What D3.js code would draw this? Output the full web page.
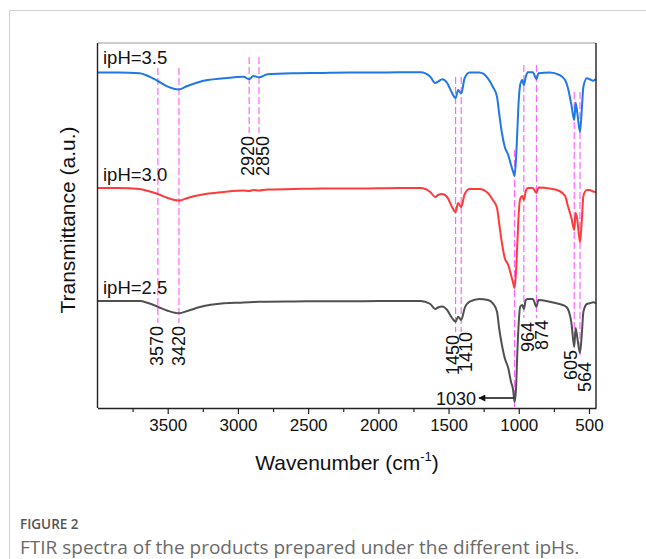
<!DOCTYPE html>
<html>
<head>
<meta charset="utf-8">
<script src="https://cdn.jsdelivr.net/npm/d3@7"></script>
<style>
body { margin: 0; background: #fff; }
svg text { font-family: "Liberation Sans", Arial, sans-serif; }
svg text.caption { font-family: "Open Sans", sans-serif; }
</style>
</head>
<body>
<div id="chart"></div>
<script>
// spectra, transmittance in arbitrary units (curves already offset)
const wavenumbers = [4000, 3850, 3700, 3640, 3570, 3500, 3420, 3360, 3270, 3100, 2960, 2920, 2890, 2850, 2790,
  2600, 2400, 2200, 2000, 1850, 1700, 1630, 1595, 1575, 1545, 1510, 1475, 1450, 1432, 1410, 1385, 1350, 1280,
  1220, 1185, 1155, 1140, 1120, 1100, 1075, 1055, 1040, 1030, 1020, 1010, 1000, 990, 975, 964, 950, 935, 900,
  874, 860, 780, 710, 670, 650, 625, 605, 595, 585, 564, 550, 540, 515, 495, 470, 450];
const ipH35 = [335.5, 335.5, 334.7, 332, 327, 321.3, 318.5, 322, 326.3, 329.7, 331.3, 328.7, 332, 330.7, 333.7,
  334.7, 335, 335.4, 335.5, 335.7, 335.7, 331.3, 325, 326.3, 328.7, 325, 315, 310, 318, 314.5, 330, 335.5, 335.4,
  329.7, 321.3, 311.3, 295, 275, 261.3, 253, 243, 236, 232, 248, 278, 308, 323, 328, 323, 331.3, 335.7, 335.7,
  329, 334.7, 335.4, 333, 328, 320, 303, 288, 305, 297, 276, 301, 321, 329.7, 328.7, 327.3, 329];
const ipH30 = [220, 220, 219, 217, 214, 210, 207.5, 210, 213, 216, 217.5, 217, 218, 217.5, 218.5,
  219, 219.5, 219.5, 219.7, 220, 220, 216, 211, 213, 214, 211, 201, 196, 205, 201, 214, 219, 219,
  215, 208, 200, 185, 165, 150, 143, 133, 125, 120, 135, 165, 195, 209, 212, 208, 217, 220, 220,
  215, 220.5, 219.5, 217, 212, 202, 190, 178, 195, 190, 166, 190, 212, 218, 218, 216.5, 216];
const ipH25 = [107, 107, 107, 105, 101.3, 97.3, 94.7, 97, 101, 104.7, 105.5, 105.8, 106, 106.2, 106.3,
  106.6, 106.7, 106.7, 107, 107, 107, 104, 99, 100.5, 101.5, 98, 90, 86.3, 91.3, 88, 100, 106.3, 109,
  108, 104.7, 96.3, 80, 63, 50, 40, 26, 18, 6, 18, 56, 86, 101.3, 103, 99, 108, 109, 109,
  101.3, 108, 106.3, 104, 102, 99, 85, 61, 80, 72, 55, 76, 96, 104, 104.7, 105.7, 105];
const seriesNames = ["ipH=3.5", "ipH=3.0", "ipH=2.5"];
const seriesLabelLevel = [344, 227, 114];

// marked bands: dashed line from top to bottom (a.u.), rotated label starting at labelTop
const peakWavenumbers = [3570, 3420, 2920, 2850, 1450, 1410, 1030, 964, 874, 605, 564];
const peakLineTop = [340, 340, 351, 351, 331, 331, 258, 343, 343, 316, 316];
const peakLineBottom = [85, 85, 275, 275, 76, 76, 1, 90, 90, 61, 53];
const peakLabelTop = [82, 82, 272, 272, 73, 76, null, 86, 88, 58, 46];
const peakLabelShift = [-1, 0, -2, 4, -3, 4, 0, 4, 5, -4, 5];

const majorTicks = [3500, 3000, 2500, 2000, 1500, 1000, 500];
const minorTicks = [3750, 3250, 2750, 2250, 1750, 1250, 750];

const width = 646, height = 559;
const plot = { left: 97.5, right: 596, top: 43, bottom: 408 };
const colors = ["#1f78e6", "#ff3a3a", "#505050"];

const svg = d3.select("#chart").append("svg")
  .attr("width", width)
  .attr("height", height);

// card borders
svg.append("line").attr("x1", 9.5).attr("x2", width).attr("y1", 10.5).attr("y2", 10.5)
  .attr("stroke", "#d0d0d0");
svg.append("line").attr("x1", 9.5).attr("x2", 9.5).attr("y1", 10.5).attr("y2", height)
  .attr("stroke", "#d0d0d0");

const x = d3.scaleLinear().domain([4000, 450]).range([plot.left, plot.right]);
const y = d3.scaleLinear().domain([0, 365]).range([plot.bottom, plot.top]);

// dashed marker lines
const peaks = peakWavenumbers.map((w, i) => ({
  w: w, top: peakLineTop[i], bottom: peakLineBottom[i], label: peakLabelTop[i], dx: peakLabelShift[i]
}));
svg.append("g").selectAll("line").data(peaks).enter().append("line")
  .attr("x1", d => x(d.w)).attr("x2", d => x(d.w))
  .attr("y1", d => y(d.top)).attr("y2", d => y(d.bottom))
  .attr("stroke", "#ff66ff")
  .attr("stroke-width", 1.2)
  .attr("stroke-dasharray", "7,3");

// spectra
const line = d3.line()
  .x(d => x(d[0]))
  .y(d => y(d[1]))
  .curve(d3.curveMonotoneX);
[ipH35, ipH30, ipH25].forEach((vals, i) => {
  svg.append("path")
    .datum(wavenumbers.map((w, j) => [w, vals[j]]))
    .attr("fill", "none")
    .attr("stroke", colors[i])
    .attr("stroke-width", 2)
    .attr("stroke-linejoin", "round")
    .attr("d", line);
  svg.append("text")
    .attr("x", 103)
    .attr("y", y(seriesLabelLevel[i]))
    .attr("font-size", 18.5)
    .attr("fill", "#111")
    .text(seriesNames[i]);
});

// rotated peak labels
svg.append("g").selectAll("text").data(peaks.filter(d => d.label !== null)).enter().append("text")
  .attr("transform", d => `translate(${x(d.w) + d.dx},${y(d.label)}) rotate(-90)`)
  .attr("dy", "0.36em")
  .attr("text-anchor", "end")
  .attr("font-size", 18)
  .attr("fill", "#111")
  .text(d => d.w);

// 1030 arrow
const arrowY = 398;
svg.append("defs").append("marker")
  .attr("id", "head")
  .attr("viewBox", "0 0 10 10")
  .attr("refX", 9).attr("refY", 5)
  .attr("markerWidth", 12).attr("markerHeight", 7)
  .attr("markerUnits", "userSpaceOnUse")
  .attr("orient", "auto")
  .append("path").attr("d", "M0,0 L10,5 L0,10 Z").attr("fill", "#111");
svg.append("line")
  .attr("x1", x(1030) - 1).attr("x2", 479)
  .attr("y1", arrowY).attr("y2", arrowY)
  .attr("stroke", "#111").attr("stroke-width", 1.3)
  .attr("marker-end", "url(#head)");
svg.append("text")
  .attr("x", 476).attr("y", arrowY + 6.5)
  .attr("text-anchor", "end")
  .attr("font-size", 18)
  .attr("fill", "#111")
  .text("1030");

// frame
svg.append("line").attr("x1", plot.left).attr("x2", plot.right).attr("y1", plot.top).attr("y2", plot.top)
  .attr("stroke", "#9a9a9a").attr("stroke-width", 1);
svg.append("line").attr("x1", plot.left).attr("x2", plot.left).attr("y1", plot.top).attr("y2", plot.bottom)
  .attr("stroke", "#222").attr("stroke-width", 1.4);
svg.append("line").attr("x1", plot.right).attr("x2", plot.right).attr("y1", plot.top).attr("y2", plot.bottom)
  .attr("stroke", "#222").attr("stroke-width", 1.4);

// x axis
const xAxis = svg.append("g")
  .attr("transform", `translate(0,${plot.bottom})`)
  .call(d3.axisBottom(x).tickValues(majorTicks).tickSize(6).tickSizeOuter(0).tickPadding(5)
    .tickFormat(d3.format("d")));
xAxis.select(".domain").attr("stroke", "#222").attr("stroke-width", 1.4);
xAxis.selectAll(".tick line").attr("stroke", "#222").attr("stroke-width", 1.2);
xAxis.selectAll(".tick text").attr("font-size", 17).attr("fill", "#111")
  .attr("font-family", "'Liberation Sans', Arial, sans-serif");
const xMinor = svg.append("g")
  .attr("transform", `translate(0,${plot.bottom})`)
  .call(d3.axisBottom(x).tickValues(minorTicks).tickSize(4).tickFormat(""));
xMinor.select(".domain").remove();
xMinor.selectAll(".tick line").attr("stroke", "#222").attr("stroke-width", 1.2);

// axis titles
const xTitle = svg.append("text")
  .attr("x", 347).attr("y", 470)
  .attr("text-anchor", "middle")
  .attr("font-size", 21)
  .attr("fill", "#111");
xTitle.append("tspan").text("Wavenumber (cm");
xTitle.append("tspan").attr("font-size", 13).attr("dy", -9).text("-1");
xTitle.append("tspan").attr("dy", 9).text(")");

svg.append("text")
  .attr("transform", "translate(75,220) rotate(-90)")
  .attr("text-anchor", "middle")
  .attr("font-size", 21)
  .attr("fill", "#111")
  .text("Transmittance (a.u.)");

// caption
svg.append("text")
  .attr("class", "caption")
  .attr("x", 20).attr("y", 529)
  .attr("font-size", 13.5)
  .attr("font-weight", 600)
  .attr("fill", "#555")
  .text("FIGURE 2");
svg.append("text")
  .attr("class", "caption")
  .attr("x", 20).attr("y", 554)
  .attr("font-size", 19)
  .attr("fill", "#6a6a6a")
  .text("FTIR spectra of the products prepared under the different ipHs.");
</script>
</body>
</html>
